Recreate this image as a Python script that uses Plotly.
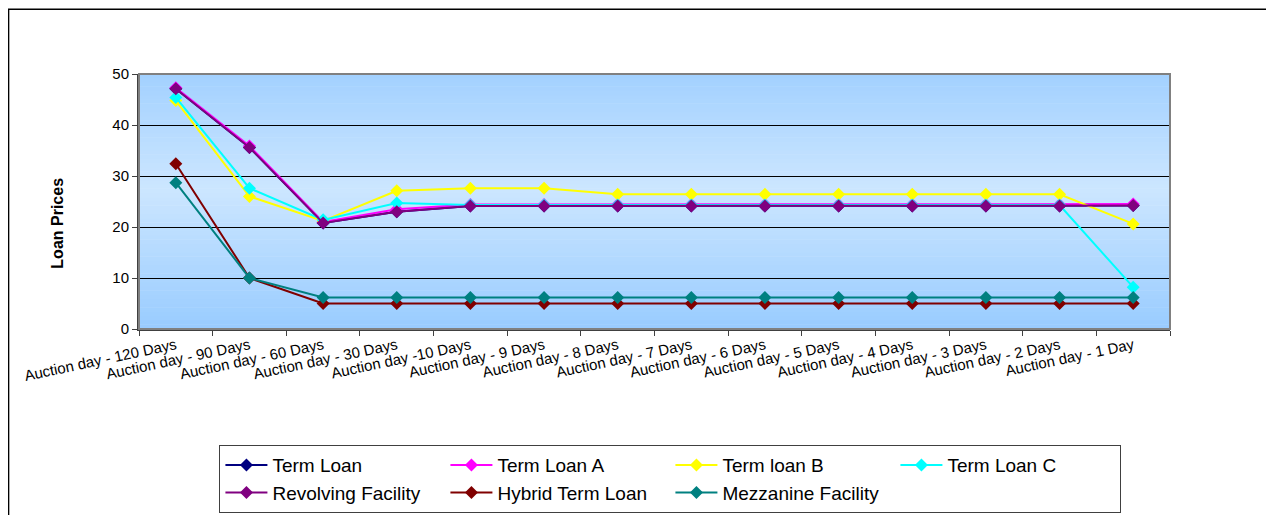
import plotly.graph_objects as go

categories = [
    "Auction day - 120 Days", "Auction day - 90 Days", "Auction day - 60 Days",
    "Auction day - 30 Days", "Auction day -10 Days", "Auction day - 9 Days",
    "Auction day - 8 Days", "Auction day - 7 Days", "Auction day - 6 Days",
    "Auction day - 5 Days", "Auction day - 4 Days", "Auction day - 3 Days",
    "Auction day - 2 Days", "Auction day - 1 Day",
]

term_loan = [47.1, 35.6, 20.8, 23.0, 24.1, 24.1, 24.1, 24.1, 24.1, 24.1, 24.1, 24.1, 24.1, 24.2]
term_loan_a = [47.3, 35.9, 21.0, 23.5, 24.4, 24.4, 24.4, 24.4, 24.4, 24.4, 24.4, 24.4, 24.4, 24.5]
term_loan_b = [44.8, 26.0, 21.2, 27.1, 27.6, 27.6, 26.4, 26.4, 26.4, 26.4, 26.4, 26.4, 26.4, 20.6]
term_loan_c = [45.4, 27.6, 21.4, 24.7, 24.3, 24.3, 24.3, 24.3, 24.3, 24.3, 24.3, 24.3, 24.3, 8.2]
revolving = [47.1, 35.6, 20.8, 23.0, 24.1, 24.1, 24.1, 24.1, 24.1, 24.1, 24.1, 24.1, 24.1, 24.2]
hybrid = [32.4, 10.0, 5.0, 5.0, 5.0, 5.0, 5.0, 5.0, 5.0, 5.0, 5.0, 5.0, 5.0, 5.0]
mezzanine = [28.7, 10.0, 6.2, 6.2, 6.2, 6.2, 6.2, 6.2, 6.2, 6.2, 6.2, 6.2, 6.2, 6.2]

series = [
    ("Term Loan", term_loan, "#000080"),
    ("Term Loan A", term_loan_a, "#FF00FF"),
    ("Term loan B", term_loan_b, "#FFFF00"),
    ("Term Loan C", term_loan_c, "#00FFFF"),
    ("Revolving Facility", revolving, "#800080"),
    ("Hybrid Term Loan", hybrid, "#800000"),
    ("Mezzanine Facility", mezzanine, "#008080"),
]

FONT = "Arial, 'Liberation Sans', sans-serif"

fig = go.Figure()
for name, vals, col in series:
    fig.add_trace(go.Scatter(
        x=categories, y=vals, name=name, mode="lines+markers",
        line=dict(color=col, width=2),
        marker=dict(symbol="diamond", size=10, color=col),
    ))

# gradient background of the plot area (light in the middle, blue at the edges)
shapes = []
n_bands = 60
top = (153, 204, 255)
mid = (204, 230, 255)
for i in range(n_bands):
    t = (i + 0.5) / n_bands
    k = 1 - abs(t - 0.55) / 0.55
    k = max(0.0, min(1.0, k))
    c = tuple(int(round(top[j] + (mid[j] - top[j]) * k)) for j in range(3))
    shapes.append(dict(
        type="rect", xref="paper", yref="paper", layer="below",
        x0=0, x1=1, y0=i / n_bands, y1=(i + 1) / n_bands + 0.002,
        fillcolor="rgb(%d,%d,%d)" % c, line=dict(width=0),
    ))
# plot area frame
shapes.append(dict(type="rect", xref="paper", yref="paper", x0=0, x1=1, y0=0, y1=1,
                   line=dict(color="#808080", width=2), layer="above"))
# chart outer frame (runs off the right and bottom edges)
shapes.append(dict(type="rect", xref="paper", yref="paper", x0=-0.1265, x1=1.12,
                   y0=-0.8, y1=1.254, line=dict(color="black", width=1.5), layer="above"))

# page body adds an 8px offset, margins compensate for it
fig.update_layout(
    width=1274, height=515,
    margin=dict(l=131, r=112, t=66, b=194, autoexpand=False),
    paper_bgcolor="white",
    plot_bgcolor="rgba(0,0,0,0)",
    font=dict(family=FONT, color="black", size=13),
    shapes=shapes,
    showlegend=True,
    legend=dict(
        orientation="h", x=0.078, y=-0.455, xanchor="left", yanchor="top",
        bgcolor="white", bordercolor="#404040", borderwidth=1,
        font=dict(family=FONT, size=19), itemwidth=42,
        entrywidth=168, traceorder="normal",
    ),
    annotations=[dict(
        text="<b>Loan Prices</b>", textangle=-90, xref="paper", yref="paper",
        x=-0.089, y=0.416, showarrow=False, font=dict(family=FONT, size=16),
    )],
)

fig.update_xaxes(
    type="category", range=[-0.5, 13.5], tickangle=-12,
    tickson="boundaries", ticks="outside", ticklen=5, tickcolor="#404040",
    showline=True, linecolor="#404040", linewidth=2, showgrid=False,
    tickfont=dict(size=15),
)
fig.update_yaxes(
    range=[0, 50], dtick=10, ticks="outside", ticklen=5, tickcolor="#404040",
    showline=True, linecolor="#404040", linewidth=2,
    showgrid=True, gridcolor="black", gridwidth=1, zeroline=False,
    tickfont=dict(size=15),
)

fig.write_html("out.html")
